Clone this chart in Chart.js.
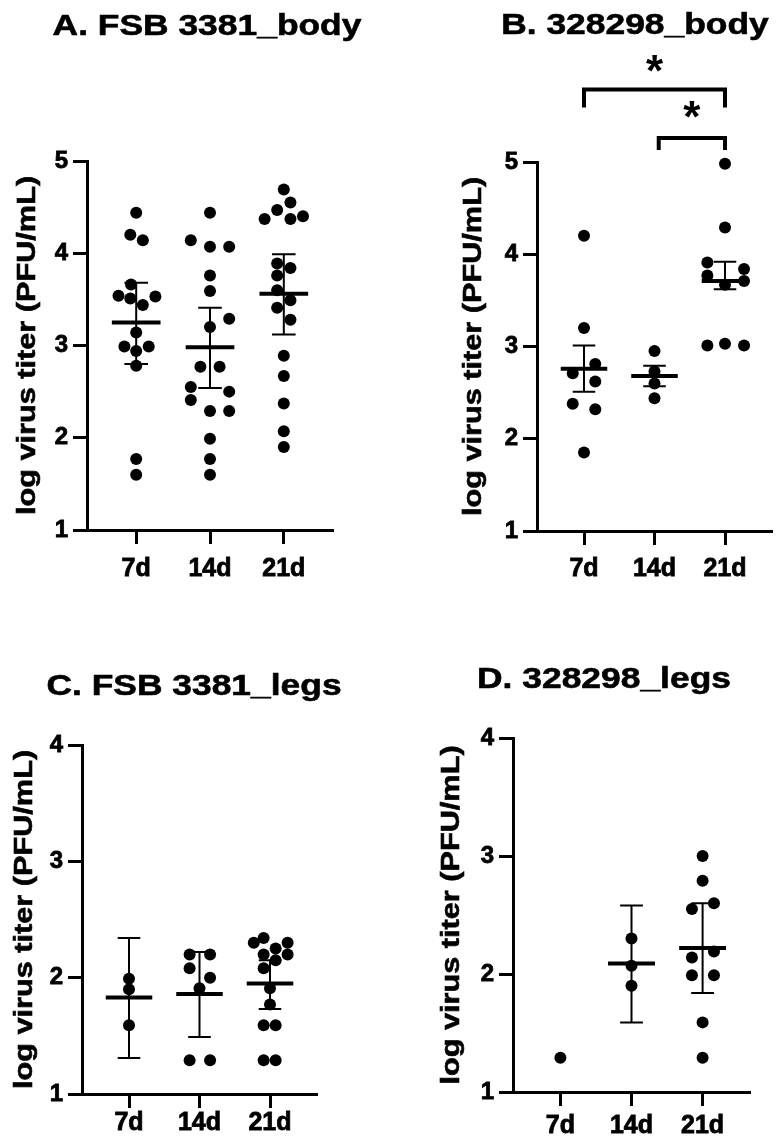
<!DOCTYPE html>
<html>
<head>
<meta charset="utf-8">
<script src="https://cdn.jsdelivr.net/npm/chart.js@4.4.1/dist/chart.umd.min.js"></script>
<style>
  html, body { margin: 0; padding: 0; background: #fff; }
  #wrap { position: relative; width: 778px; height: 1141px; }
  canvas { position: absolute; }
</style>
</head>
<body>
<div id="wrap">
  <canvas id="chartA" style="left:0;top:0"></canvas>
  <canvas id="chartB" style="left:389px;top:0"></canvas>
  <canvas id="chartC" style="left:0;top:600px"></canvas>
  <canvas id="chartD" style="left:389px;top:600px"></canvas>
</div>
<script>
// Groups on the x axis
const days = ['7d', '14d', '21d'];

// A. FSB 3381_body - log titers per group
const bodyFsb7 = [4.44, 4.20, 4.14, 3.66, 3.54, 3.51, 3.53, 3.44, 3.14, 2.99, 2.99, 2.94, 2.78, 1.77, 1.60];
const bodyFsb14 = [4.44, 4.14, 4.07, 4.07, 3.76, 3.59, 3.29, 3.20, 2.77, 2.77, 2.55, 2.50, 2.41, 2.29, 2.29, 1.99, 1.77, 1.60];
const bodyFsb21 = [4.69, 4.55, 4.47, 4.40, 4.37, 4.37, 3.89, 3.84, 3.76, 3.60, 3.49, 3.41, 3.28, 2.89, 2.67, 2.37, 2.07, 1.90];
// scatter offsets of the dots, in group units
const bodyFsb7Jit = [0, -0.08, 0.09, -0.07, -0.24, -0.08, 0.26, 0.09, 0, -0.16, 0.17, 0, 0, 0, 0];
const bodyFsb14Jit = [0, -0.26, 0, 0.26, 0, 0, 0.26, 0, -0.13, 0.13, -0.26, 0.26, -0.26, 0, 0.26, 0, 0, 0];
const bodyFsb21Jit = [0, 0.09, -0.09, 0.26, -0.26, 0.09, -0.09, 0.09, -0.09, -0.09, 0.09, -0.09, 0.09, 0, 0, 0, 0, 0];
const bodyFsbMean = [3.25, 2.98, 3.56];
const bodyFsbLow = [2.80, 2.54, 3.12];
const bodyFsbHigh = [3.68, 3.41, 3.99];

// B. 328298_body
const body328_7 = [4.20, 3.20, 2.81, 2.71, 2.62, 2.38, 2.32, 1.85];
const body328_14 = [2.95, 2.73, 2.60, 2.44];
const body328_21 = [4.98, 4.29, 3.91, 3.84, 3.77, 3.71, 3.67, 3.01, 3.03, 3.01];
const body328_7Jit = [0, 0, 0.16, -0.16, 0.16, -0.16, 0.16, 0];
const body328_14Jit = [0, 0, 0, 0];
const body328_21Jit = [0, 0, -0.25, 0.27, -0.25, 0.27, 0, -0.25, 0, 0.27];
const body328Mean = [2.76, 2.68, 3.71];
const body328Low = [2.51, 2.57, 3.62];
const body328High = [3.01, 2.79, 3.92];
// significance brackets: from group, to group, bracket top, leg foot, star height
const body328Sig = [
  { from: 1, to: 3, top: 5.785, foot: 5.59, star: 6.075 },
  { from: 2.06, to: 3, top: 5.26, foot: 5.13, star: 5.568 }
];

// C. FSB 3381_legs
const legsFsb7 = [1.99, 1.90, 1.59];
const legsFsb14 = [2.20, 2.20, 2.08, 2.00, 1.91, 1.29, 1.29];
const legsFsb21 = [2.34, 2.30, 2.30, 2.25, 2.20, 2.20, 2.15, 2.08, 1.91, 1.77, 1.59, 1.59, 1.29, 1.29];
const legsFsb7Jit = [0, 0, 0];
const legsFsb14Jit = [-0.14, 0.15, -0.14, 0.15, 0, -0.14, 0.15];
const legsFsb21Jit = [-0.09, -0.23, 0.25, 0.08, -0.09, 0.25, 0.08, -0.09, 0, 0, -0.09, 0.08, -0.09, 0.08];
const legsFsbMean = [1.83, 1.86, 1.95];
const legsFsbLow = [1.31, 1.49, 1.73];
const legsFsbHigh = [2.34, 2.22, 2.15];

// D. 328298_legs
const legs328_7 = [1.29];
const legs328_14 = [2.30, 2.07, 1.90];
const legs328_21 = [3.00, 2.79, 2.60, 2.55, 2.19, 2.14, 1.99, 1.99, 1.59, 1.29];
const legs328_7Jit = [0];
const legs328_14Jit = [0, 0, 0];
const legs328_21Jit = [0, 0, 0.16, -0.15, 0.16, -0.15, -0.15, 0.16, 0, 0];
const legs328Mean = [null, 2.09, 2.22];
const legs328Low = [null, 1.59, 1.84];
const legs328High = [null, 2.58, 2.60];

const yLabel = 'log virus titer (PFU/mL)';
const FONT = '"Liberation Sans", Arial, Helvetica, sans-serif';

Chart.defaults.font.family = FONT;
Chart.defaults.font.weight = 'bold';
Chart.defaults.color = '#000';

// layout of each panel (canvas size, plot area in canvas px)
const panels = [
  {
    id: 'chartA', title: 'A. FSB 3381_body', w: 389, h: 600, yMax: 5,
    area: { l: 87, r: 333, t: 161, b: 530 }, titleX: 207, titleY: 35, labelX: 28, tickPad: 10,
    groups: [bodyFsb7, bodyFsb14, bodyFsb21], jit: [bodyFsb7Jit, bodyFsb14Jit, bodyFsb21Jit],
    mean: bodyFsbMean, low: bodyFsbLow, high: bodyFsbHigh, sig: []
  },
  {
    id: 'chartB', title: 'B. 328298_body', w: 389, h: 600, yMax: 5,
    area: { l: 148, r: 389, t: 162, b: 531 }, titleX: 246, titleY: 34, labelX: 85, tickPad: 9,
    groups: [body328_7, body328_14, body328_21], jit: [body328_7Jit, body328_14Jit, body328_21Jit],
    mean: body328Mean, low: body328Low, high: body328High, sig: body328Sig
  },
  {
    id: 'chartC', title: 'C. FSB 3381_legs', w: 389, h: 541, yMax: 4,
    area: { l: 82, r: 317, t: 145, b: 494 }, titleX: 194, titleY: 95, labelX: 25, tickPad: 0,
    groups: [legsFsb7, legsFsb14, legsFsb21], jit: [legsFsb7Jit, legsFsb14Jit, legsFsb21Jit],
    mean: legsFsbMean, low: legsFsbLow, high: legsFsbHigh, sig: []
  },
  {
    id: 'chartD', title: 'D. 328298_legs', w: 389, h: 541, yMax: 4,
    area: { l: 124, r: 361, t: 138, b: 492 }, titleX: 215, titleY: 88, labelX: 63, tickPad: 5,
    groups: [legs328_7, legs328_14, legs328_21], jit: [legs328_7Jit, legs328_14Jit, legs328_21Jit],
    mean: legs328Mean, low: legs328Low, high: legs328High, sig: []
  }
];

// the figure's font is about 18% wider than Arial, so text is stretched along its direction
const STRETCH = 1.18;

function wideText(ctx, text, size, x, y, rotate) {
  ctx.save();
  ctx.font = 'bold ' + size + 'px ' + FONT;
  ctx.textAlign = 'center';
  ctx.textBaseline = rotate ? 'middle' : 'alphabetic';
  ctx.translate(x, y);
  if (rotate) ctx.rotate(-Math.PI / 2);
  ctx.scale(STRETCH, 1);
  ctx.lineWidth = 0.6;
  ctx.strokeStyle = '#000';
  ctx.fillText(text, 0, 0);
  ctx.strokeText(text, 0, 0);
  ctx.restore();
}

// Mean line, error bars, titles and brackets
function makeDecor(p) {
  return {
    id: 'decor',
    afterDatasetsDraw(chart) {
      const ctx = chart.ctx, xs = chart.scales.x, ys = chart.scales.y;
      ctx.save();
      ctx.strokeStyle = '#000';
      p.mean.forEach((m, i) => {
        if (m == null) return;
        const c = i + 1;
        const px = xs.getPixelForValue(c);
        ctx.lineWidth = 2;
        ctx.beginPath();
        ctx.moveTo(px, ys.getPixelForValue(p.low[i]));
        ctx.lineTo(px, ys.getPixelForValue(p.high[i]));
        [p.low[i], p.high[i]].forEach(v => {
          ctx.moveTo(xs.getPixelForValue(c - 0.16), ys.getPixelForValue(v));
          ctx.lineTo(xs.getPixelForValue(c + 0.16), ys.getPixelForValue(v));
        });
        ctx.stroke();
        ctx.lineWidth = 4;
        ctx.beginPath();
        ctx.moveTo(xs.getPixelForValue(c - 0.33), ys.getPixelForValue(m));
        ctx.lineTo(xs.getPixelForValue(c + 0.33), ys.getPixelForValue(m));
        ctx.stroke();
      });
      ctx.restore();
    },
    afterDraw(chart) {
      const ctx = chart.ctx, xs = chart.scales.x, ys = chart.scales.y;
      ctx.fillStyle = '#000';
      wideText(ctx, p.title, 30, p.titleX, p.titleY, false);
      wideText(ctx, yLabel, 26, p.labelX, (chart.chartArea.top + chart.chartArea.bottom) / 2, true);
      // significance brackets
      ctx.save();
      ctx.strokeStyle = '#000';
      ctx.lineWidth = 4;
      ctx.lineJoin = 'miter';
      p.sig.forEach(s => {
        const x1 = xs.getPixelForValue(s.from), x2 = xs.getPixelForValue(s.to);
        ctx.beginPath();
        ctx.moveTo(x1, ys.getPixelForValue(s.foot));
        ctx.lineTo(x1, ys.getPixelForValue(s.top));
        ctx.lineTo(x2, ys.getPixelForValue(s.top));
        ctx.lineTo(x2, ys.getPixelForValue(s.foot));
        ctx.stroke();
        ctx.font = 'bold 44px ' + FONT;
        ctx.textAlign = 'center';
        ctx.textBaseline = 'alphabetic';
        ctx.fillText('*', (x1 + x2) / 2, ys.getPixelForValue(s.star) + 0.52 * 44);
      });
      ctx.restore();
    }
  };
}

panels.forEach(p => {
  const canvas = document.getElementById(p.id);
  canvas.width = p.w;
  canvas.height = p.h;
  canvas.style.width = p.w + 'px';
  canvas.style.height = p.h + 'px';

  const datasets = p.groups.map((vals, i) => ({
    data: vals.map((v, k) => ({ x: i + 1 + p.jit[i][k], y: v })),
    pointRadius: 6,
    pointBackgroundColor: '#000',
    pointBorderWidth: 0,
    showLine: false,
    clip: false
  }));

  const axisGrid = {
    display: true, drawOnChartArea: false, drawTicks: true,
    tickLength: 14, tickWidth: 3, tickColor: '#000'
  };
  const axisBorder = { display: true, width: 3, color: '#000' };

  new Chart(canvas, {
    type: 'scatter',
    data: { datasets: datasets },
    options: {
      responsive: false,
      animation: false,
      events: [],
      layout: { padding: { left: 0, right: p.w - p.area.r, top: p.area.t, bottom: 0 } },
      plugins: { legend: { display: false }, tooltip: { enabled: false } },
      scales: {
        x: {
          type: 'linear', min: 1 / 3, max: 11 / 3,
          afterBuildTicks: s => { s.ticks = days.map((d, i) => ({ value: i + 1 })); },
          afterFit: s => { s.height = p.h - p.area.b; },
          ticks: {
            callback: v => days[Math.round(v) - 1],
            font: { size: 25, weight: 'bold' }, color: '#000',
            textStrokeColor: '#000', textStrokeWidth: 0.8,
            padding: p.tickPad, maxRotation: 0, autoSkip: false
          },
          grid: axisGrid, border: axisBorder
        },
        y: {
          min: 1, max: p.yMax,
          afterFit: s => { s.width = p.area.l; },
          ticks: {
            stepSize: 1, font: { size: 24, weight: 'bold' }, color: '#000',
            textStrokeColor: '#000', textStrokeWidth: 0.8, padding: 5
          },
          grid: axisGrid, border: axisBorder
        }
      }
    },
    plugins: [makeDecor(p)]
  });
});
</script>
</body>
</html>
